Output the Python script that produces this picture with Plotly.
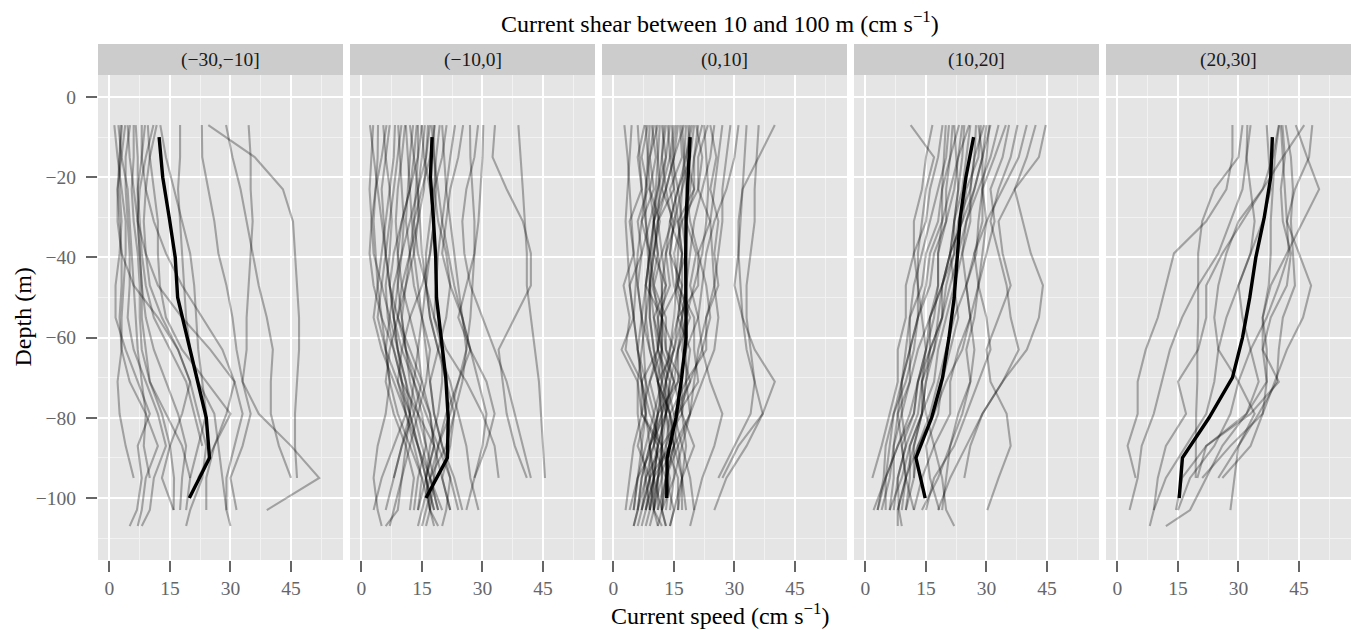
import plotly.graph_objects as go
from plotly.subplots import make_subplots

# ---------------- data ----------------
depths = [-7, -15, -23, -31, -39, -47, -55, -63, -71, -79, -87, -95, -103, -107]
mean_depths = [-10, -20, -30, -40, -50, -60, -70, -80, -90, -100]
panel_labels = ["(−30,−10]", "(−10,0]", "(0,10]", "(10,20]", "(20,30]"]
x_ticks = [0, 15, 30, 45]
y_ticks = [0, -20, -40, -60, -80, -100]
y_ticktext = ["0", "−20", "−40", "−60", "−80", "−100"]

mean_p1 = [12.3, 13.2, 14.8, 16.3, 16.9, 19.2, 21.5, 24.0, 24.8, 19.8]
mean_p2 = [17.5, 17.1, 17.8, 18.4, 18.6, 19.7, 20.9, 21.5, 21.3, 16.0]
mean_p3 = [19.0, 18.4, 18.0, 17.9, 17.9, 18.0, 16.9, 15.5, 13.3, 13.2]
mean_p4 = [26.8, 24.9, 23.5, 22.8, 22.0, 20.7, 19.1, 16.4, 12.5, 14.8]
mean_p5 = [38.4, 38.0, 36.4, 34.3, 32.8, 31.0, 28.5, 22.7, 16.1, 15.3]

profiles_p1 = [
    [24.5, 36, 43, 45.5, 46, 46.5, 47, 47, 46.5, 46, 46, 46.5, None, None],
    [28.9, 30.5, 32.5, 34, 35.5, 37, 39, 40.5, 40, 40, 42, 45, None, None],
    [22.9, 23, 24.5, 26, 27, 29, 30.5, 31.5, 33, 37, 45, 52, 39, None],
    [34.5, 35, 35, 35.5, 35, 34.5, 34, 34, 33, 35, 33, 30, 31.5, None],
    [17.5, 17.5, 17, 17.5, 18, 18.5, 19, 20, 22, 26, 27, 28, 29, None],
    [12.6, 14, 16, 18, 20, 21, 21.5, 22, 23, 24, 22, 20, 19, None],
    [11.7, 10, 9, 8.5, 9, 10, 13, 17, 20, 22, 24, 23, 20, 19],
    [10.9, 9, 7.5, 7, 7.5, 8, 9, 11, 14, 17, 19, 18, 17.5, None],
    [8.8, 8, 7, 7, 7.5, 8, 8, 9, 10, 13, 15, 16, 15.9, None],
    [8.0, 8, 9, 11, 14, 18, 23, 28, 31, 29, 26, 24, 24, None],
    [6.0, 6, 5.5, 6, 7, 7.5, 7.5, 8, 10, 14, 18, 20, None, None],
    [5.1, 4, 4, 4.5, 5, 5, 4.5, 6, 9, 12, 14, 11, 10, 8],
    [3.9, 3, 2, 2.5, 3, 3, 2.5, 3, 5, 9, 12, 9, 8, 7],
    [3.1, 2.5, 2.5, 3, 2.5, 1.5, 1.5, 4, 7, 10, 7, 8, 6.8, 5],
    [2.2, 3, 4.5, 5, 5.5, 6, 6.5, 7, 8, 9, 8.5, 10, None, None],
    [1.2, 2, 3, 4, 4, 3.5, 3, 3, 2, 2.5, 4, 6, None, None],
    [6.5, 7, 7, 7.5, 8, 9, 11, 15, 19, 21, 23, None, None, None],
    [9.5, 10, 11, 12, 12, 12.5, 14, 18, 24, 30, 26, 22, None, None],
    [4.5, 5, 6, 7, 9, 12, 18, 25, 31, 33, 31, 29, 29, 30],
    [2.8, 2.5, 2, 2, 3, 6, 12, 17, 20, 18, 15, 13, 15.9, None],
]

profiles_p2 = [
    [38.9, 39.5, 40, 40.5, 41, 41, 42, 43, 44, 44.5, 45, 45.5, None, None],
    [33.1, 32.5, 36, 40, 42, 42, 38, 34, 35, 36, 38, 41, None, None],
    [30.2, 30, 29.5, 29, 28, 26, 24, 27, 31, 33, 31, 28, None, None],
    [28.9, 28, 26, 25, 25.5, 27, 30, 33, 36, 38, 40, 42, None, None],
    [26.9, 27, 27.5, 28, 28, 27.5, 27, 26, 25, 23, 22, 20, 22, None],
    [25.2, 24, 22, 21, 20, 22, 25, 27, 24, 22, 19, 18, 16, 15],
    [23.2, 22, 21, 20, 19, 18.5, 18, 21, 26, 30, 33, 34, None, None],
    [21.1, 20, 18, 17, 16, 16, 17, 19, 22, 24, 26, 27, 29, None],
    [19.4, 18.5, 18, 19, 21, 22, 21, 19, 17, 18, 20, 23, 25, None],
    [18.2, 17, 15, 13, 12, 11, 10, 11, 13, 16, 19, 22, 21, 20],
    [17.4, 18, 19, 20, 21.5, 23, 25, 26, 24, 21, 19, 17, 19, None],
    [16.5, 16, 15.5, 14, 12, 10, 9, 11, 14, 17, 18, 16, 14, None],
    [15.7, 15, 14, 14.5, 15, 16, 17, 19, 21, 23, 21, 17, 15, 14],
    [14.9, 15.5, 17, 18, 17, 15, 12, 10, 9, 11, 14, 17, 20, None],
    [13.7, 13, 12, 10, 8, 7, 8, 10, 13, 15, 16, 14, 13, None],
    [12.8, 12, 11.5, 11, 12, 13, 15, 17, 16, 14, 12, 10, 8, 7],
    [12, 13, 14, 14, 13, 11, 9, 7, 6, 8, 11, 13, 12, None],
    [10.8, 10, 9, 8.5, 9, 10, 12, 14, 15, 13, 10, 8, 6, None],
    [9.9, 9, 8, 7, 6, 5, 4, 6, 9, 12, 14, 16, 17, 18],
    [9.1, 9.5, 10, 10.5, 10, 9, 8, 9, 11, 12, 10, 8, None, None],
    [8.3, 8, 7, 6, 5, 4, 3, 5, 8, 11, 13, 15, 14, None],
    [7.0, 6, 5, 5.5, 6, 7, 9, 12, 15, 17, 18, 16, 17, 16],
    [6.2, 5, 3.5, 2.5, 2, 3, 5, 8, 10, 11, 8, 5, 3, None],
    [5.4, 6, 7, 7.5, 7, 6, 6.5, 8, 10, 14, 18, 20, 22, None],
    [4.1, 4, 3.5, 3, 3.5, 4, 5, 6, 7, 6, 4, 3, 4, 5],
    [2.9, 2.5, 2, 2.5, 3, 5, 7, 9, 11, 13, 15, 17, 19, None],
    [2.1, 3, 4, 5, 6, 7, 8, 9, 10, 12, 14, 16, 18, None],
    [17, 16, 14, 12, 10, 8, 7, 6, 7, 9, 12, 15, 17, 19],
    [20, 20.5, 21, 22, 23, 24, 25, 27, 29, 31, 30, 28, 26, None],
    [14, 14, 13.5, 13, 14, 16, 18, 20, 20, 19, 17, 16, 18, None],
    [11, 11.5, 12, 12.5, 13, 14, 15, 16, 17, 18, 20, 22, 24, None],
    [15, 14, 12, 10, 9, 9, 10, 11, 12, 14, 16, 18, 17, None],
    [18, 18, 18.5, 18, 17, 16, 15, 14, 13, 12, 11, 10, 9, 6],
]

profiles_p3 = [
    [40, 36, 32, 31, 31, 31.5, 32, 33, 35, 37, 33, 28, 25, None],
    [36, 35.5, 35, 35, 34, 33, 33, 34, 35, 34, 30, 26, None, None],
    [33, 32.5, 32, 31.5, 31, 30, 32, 35, 40, 37, 31, 27, None, None],
    [31, 30, 28, 25, 23, 22, 21, 22, 24, 27, 25, 22, 20, 19],
    [29, 28, 27, 27, 26, 25, 23, 21, 20, 19, 17, 15, 14, None],
    [27, 26, 25, 24, 24.5, 25, 26, 25, 22, 19, 16, 13, 12, 13],
    [25, 24, 22, 20, 19, 18, 17, 16, 15, 13, 11, 9, 8, None],
    [24, 25.5, 24, 26, 25, 26, 23, 23, 18, 17, 12, 12, 10, None],
    [23.4, 21, 21, 17, 18, 15.5, 18, 17, 19, 15, 14, 9, 7, 6],
    [22.5, 23, 23.5, 23, 22, 20, 18, 16, 14, 13, 12, 11, 11, None],
    [22, 20, 20, 16, 17, 16, 20, 20, 21, 16, 15, 11, 10, 11],
    [21, 20, 19, 18, 18, 18, 17, 15, 13, 11, 9, 7, 6, None],
    [20.5, 22, 21, 24, 21, 21, 16, 15, 11, 12, 9, 10, 8, 7],
    [20, 19, 17, 15, 14, 15, 17, 18, 16, 13, 11, 10, 9, None],
    [19.5, 18, 20, 18, 20.5, 19, 21, 18, 18, 14, 15, 13, 15, 14],
    [19, 18, 16, 14, 13, 12, 12, 13, 15, 17, 18, 17, 16, None],
    [18.5, 19, 16, 17, 15, 16, 12, 12, 9, 11, 10, 13, 12, None],
    [18, 17.5, 17, 16.5, 16, 15.5, 15, 14, 13, 12, 10, 8, 6, 5],
    [17.5, 15, 15, 11, 12, 10, 13, 13, 17, 17, 20, 17, 17, None],
    [17, 17.5, 18, 19, 21, 23, 24, 22, 19, 16, 13, 11, 9, None],
    [16.5, 17, 14, 15.5, 13, 14, 11, 11, 7, 8, 6, 9, 10, 12],
    [16, 15, 13, 11, 10, 9, 9, 10, 12, 14, 15, 13, 11, None],
    [15.5, 14.5, 16, 14, 17, 16, 19, 16, 16, 11, 10, 6, 5, None],
    [15, 14, 12, 10, 9, 8, 8, 9, 11, 14, 16, 17, 15, 14],
    [14.5, 15, 13, 14.5, 12, 13, 10, 12, 11, 14, 13, 16, 16, None],
    [14, 13, 11, 9, 7, 6, 7, 9, 11, 12, 12, 11, 10, 9],
    [13.5, 14, 15, 16, 17, 17, 16, 14, 12, 10, 8, 6, 4, None],
    [13, 12, 13, 10, 11, 9.5, 12, 11, 14, 13, 14, 10, 9, None],
    [12.5, 12, 11, 10, 9, 8, 7, 6, 7, 9, 12, 14, 13, None],
    [12, 13, 12, 15, 14, 17, 16, 19, 18, 19, 15, 15, 12, 11],
    [11.5, 11, 10.5, 10, 9.5, 9, 9, 10, 11, 13, 15, 17, 18, None],
    [11, 9, 10, 7, 9, 8, 12, 12, 15, 12, 12, 8, 7, None],
    [10.5, 11, 11.5, 11, 10, 9, 8, 7, 6, 6, 7, 8, 9, 8],
    [10, 9, 8, 7, 6, 5.5, 5, 6, 8, 10, 11, 10, 8, None],
    [9.5, 10.5, 9, 11.5, 10, 13, 12, 15, 13, 13, 9, 9, 7, None],
    [9, 8.5, 8, 8, 8.5, 9, 10, 11, 13, 15, 17, 19, 20, None],
    [8.5, 7, 8.5, 6, 7, 4, 5, 2, 6, 7, 12, 12, 12, 13],
    [8, 8.5, 9, 10, 11, 12, 12, 11, 9, 7, 5, 4, 3, None],
    [7.7, 6, 7, 4, 5, 2.5, 4, 3, 7, 7, 11, 10, 12, None],
    [6, 6.5, 7, 8, 9, 10, 11, 12, 12, 11, 9, 7, 6, 5],
    [4.5, 4, 3.5, 3, 3.5, 4, 5, 6, 7, 8, 9, 10, 10, None],
    [2.7, 3.5, 4, 4.5, 5, 6, 7, 7.5, 8, 8, 7, 6, 5, None],
]

profiles_p4 = [
    [44.7, 43, 37, 33, 34, 36, 33, 30, 31, 35, 36, 33, 30.2, None],
    [42.2, 40, 37, 39, 41, 44, 43, 40, 34, 29, 26, 24.5, None, None],
    [37.7, 36, 33, 31, 33, 35, 36, 38, 34, 29, 25, 21, 18, None],
    [35.6, 34, 31, 32, 30, 28, 30, 31, 28, 25, 22, 17, 15, None],
    [34.8, 32, 29, 28, 27.5, 25, 26, 23, 21, 21, 17, 14, 12, None],
    [30.7, 30, 29, 29, 27, 28, 27, 25, 26, 23, 21, 20, 19, None],
    [29.4, 27, 26, 23, 22, 19, 18, 17, 14, 13, 10, 8, 7, None],
    [28.6, 28, 25, 24, 21, 22, 20, 18, 17, 14, 11, 9, 6, None],
    [27.4, 27, 26, 26, 24, 22, 23, 21, 19, 18, 15, 16, 18.3, None],
    [25.7, 23, 22, 20, 17, 16, 13, 12, 10, 7, 6, 5, 5, None],
    [24.5, 24, 23, 22, 21, 19, 19, 16, 15, 14, 11, 11, 10, None],
    [23.2, 21, 19, 18, 15, 14, 11, 10, 9, 7, 5, 4.5, 3, None],
    [21.6, 21, 20, 20, 18, 18, 16, 16, 14, 14, 12, 10, 8, 8],
    [20.7, 20, 18, 16, 14, 12, 11, 11, 9, 9, 7, 6, 4, None],
    [19.9, 19.5, 19, 19, 18, 18, 17, 15, 13, 12, 8, 5, 3, None],
    [19.1, 18, 16, 15, 12, 10, 10, 8, 8, 6, 4, 1.7, None, None],
    [11.2, 17, 15, 14, 13, 13, 14, 15, 13, 11, 8, 5, 2, None],
    [16.6, 15, 14, 12, 12, 13, 13, 11, 11, 9, 10, 8, 8.3, 9],
    [30, 29, 27, 25, 24, 25, 26, 27, 26, 24, 21, 18, 14, None],
    [28, 29, 29, 30, 29, 28, 26, 24, 20, 17, 13, 12, 10, None],
    [26, 25, 24, 22, 22, 20, 19, 16, 13, 12, 9, 10, 12, None],
    [22, 22.5, 23, 22, 21, 19, 16, 13, 11, 8, 7, 7, 6, None],
    [31, 29, 27, 24, 21, 19, 16, 15, 14, 15, 17, 19, 20, 22],
    [24, 23, 21, 19, 16, 15, 13, 11, 9, 8, 9, 10, 9, None],
    [33, 31, 28, 25, 23, 21, 19, 17, 15, 14, 12, 12, None, None],
    [40, 38, 34, 30, 27, 25, 22, 20, 18, 16, 13, 10, 8, None],
]

profiles_p5 = [
    [28.5, 28.5, 27, 22, 14, 12, 10, 7, 5, 5, 2.5, 4.5, None, None],
    [31, 30, 24, 21, 20, 20, 20, 19.8, 19.8, 19.5, 19.5, 19.4, None, None],
    [32.2, 32, 33, 34, 33, 30, 27, 25, 30, 34, 30, 25, None, None],
    [40, 38.5, 36, 31, 26, 22, 22, 20, 15, 17, 12, 10, 9, None],
    [40.5, 41, 41.5, 42, 42.5, 40, 37, 33, 30, 28, 24, 18, 15, None],
    [40.9, 41.5, 40.5, 41, 43, 42, 38, 36, 37, 32, 22, 16, 14.5, None],
    [41.7, 43, 43.5, 43, 43.5, 44, 41, 40, 39.5, 35, 30, 29, 28, None],
    [44.2, 47, 50, 46, 42, 38, 36, 36, 40, 33, 22, 19.8, None, None],
    [46.3, 41, 36, 30, 27, 25, 24, 25, 24, 22, 17, 12, 9, 8],
    [48.3, 47.5, 44, 42, 45, 48, 46, 42, 39, 36, 33, 26, None, None],
    [40.1, 39, 38.5, 38, 38, 37.5, 36, 37, 37, 36, 28, 21, None, None],
    [33, 32, 31, 28, 25, 20, 16, 13, 11, 9, 6, 5, 3, None],
    [37, 37.5, 38, 36, 33, 30, 31, 33, 35, 32, 26, 22, 18, 12],
]

all_profiles = [profiles_p1, profiles_p2, profiles_p3, profiles_p4, profiles_p5]
all_means = [mean_p1, mean_p2, mean_p3, mean_p4, mean_p5]

# ---------------- figure ----------------
W, H = 1354, 630
ML, MR, MT, MB = 98, 3, 75, 70
plot_w = W - ML - MR
plot_h = H - MT - MB
gap = 7

fig = make_subplots(rows=1, cols=5, shared_yaxes=True,
                    horizontal_spacing=gap / plot_w)

FONT = "Liberation Serif"
TICKCOL = "#666666"

for i, (profs, mean) in enumerate(zip(all_profiles, all_means)):
    for prof in profs:
        fig.add_trace(go.Scatter(
            x=prof, y=depths, mode="lines",
            line=dict(color="rgba(0,0,0,0.3)", width=2.1),
            hoverinfo="skip", showlegend=False, connectgaps=False),
            row=1, col=i + 1)
    fig.add_trace(go.Scatter(
        x=mean, y=mean_depths, mode="lines",
        line=dict(color="black", width=3.4),
        hoverinfo="skip", showlegend=False),
        row=1, col=i + 1)

fig.update_xaxes(range=[-2.85, 57.9], tickvals=x_ticks,
                 ticktext=[str(v) for v in x_ticks],
                 showgrid=True, gridcolor="white", gridwidth=2,
                 zeroline=False, showline=False,
                 ticks="outside", ticklen=11, tickwidth=2, tickcolor=TICKCOL,
                 tickfont=dict(family=FONT, size=19.5, color=TICKCOL),
                 minor=dict(tickvals=[7.5, 22.5, 37.5, 52.5], showgrid=True,
                            gridcolor="#F2F2F2", gridwidth=1, ticks=""))
fig.update_yaxes(range=[-115.46, 5.49], tickvals=y_ticks, ticktext=y_ticktext,
                 showgrid=True, gridcolor="white", gridwidth=2,
                 zeroline=False, showline=False,
                 minor=dict(tickvals=[-10, -30, -50, -70, -90, -110], showgrid=True,
                            gridcolor="#F2F2F2", gridwidth=1, ticks=""))
fig.update_yaxes(ticks="outside", ticklen=11, tickwidth=2, tickcolor=TICKCOL,
                 tickfont=dict(family=FONT, size=19.5, color=TICKCOL),
                 ticklabelstandoff=6, row=1, col=1)
for c in range(2, 6):
    fig.update_yaxes(ticks="", showticklabels=False, row=1, col=c)

strip_h = 31
shapes = []
annotations = []
for i, lab in enumerate(panel_labels):
    xr = "x domain" if i == 0 else f"x{i+1} domain"
    shapes.append(dict(type="rect", xref=xr, yref="paper",
                       x0=0, x1=1, y0=1, y1=1 + strip_h / plot_h,
                       fillcolor="#CCCCCC", line=dict(width=0), layer="below"))
    annotations.append(dict(text=lab, xref=xr, yref="paper", x=0.5,
                            y=1 + (strip_h / 2) / plot_h,
                            xanchor="center", yanchor="middle", showarrow=False,
                            font=dict(family=FONT, size=19.5, color="#1A1A1A")))

annotations.append(dict(text="Current shear between 10 and 100 m (cm s<sup>−1</sup>)",
                        xref="paper", yref="paper", x=(720 - ML) / plot_w,
                        y=1 + (MT - 22) / plot_h, xanchor="center", yanchor="middle",
                        showarrow=False, font=dict(family=FONT, size=24, color="black")))
annotations.append(dict(text="Current speed (cm s<sup>−1</sup>)",
                        xref="paper", yref="paper", x=(720 - ML) / plot_w,
                        y=-(614 - (H - MB)) / plot_h, xanchor="center", yanchor="middle",
                        showarrow=False, font=dict(family=FONT, size=24, color="black")))
annotations.append(dict(text="Depth (m)", xref="paper", yref="paper",
                        x=-(ML - 22) / plot_w, y=0.5, textangle=-90,
                        xanchor="center", yanchor="middle", showarrow=False,
                        font=dict(family=FONT, size=24, color="black")))

fig.update_layout(width=W, height=H, autosize=False,
                  margin=dict(l=ML, r=MR, t=MT, b=MB, pad=0),
                  plot_bgcolor="#E5E5E5", paper_bgcolor="white",
                  shapes=shapes, annotations=annotations,
                  font=dict(family=FONT), showlegend=False)

fig.write_html("out.html")
